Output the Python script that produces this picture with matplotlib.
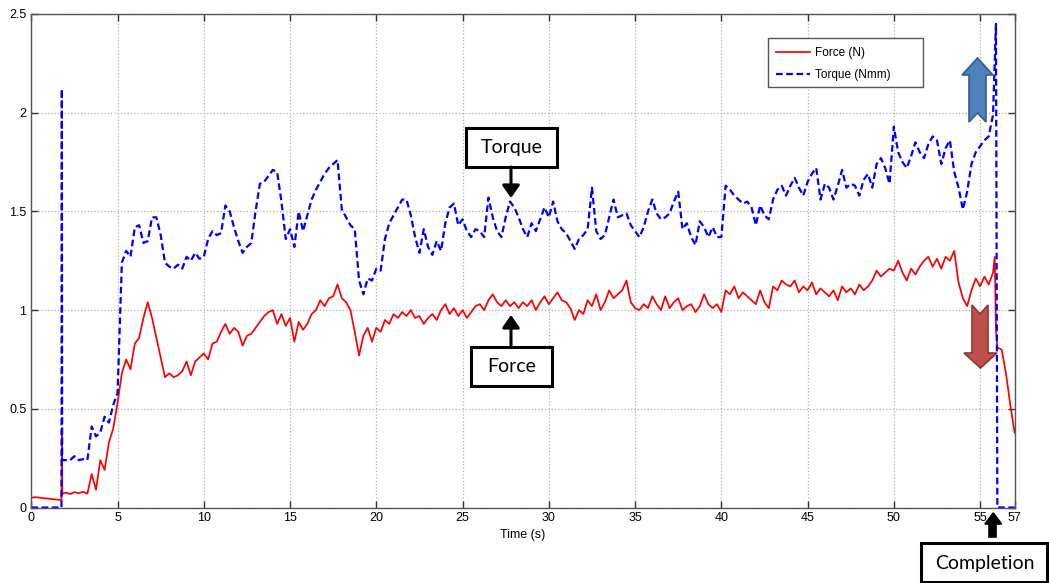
import numpy as np
import matplotlib
matplotlib.use("Agg")
import matplotlib.pyplot as plt
from matplotlib.patches import Polygon, Rectangle, FancyArrowPatch

# ---------------- data ----------------
# regular sampling grid (s)
time_grid = np.arange(0, 57.001, 0.25)

force_vals = [
    0.050, 0.052, 0.050, 0.047, 0.045, 0.042, 0.040, 0.038,
    0.075, 0.068, 0.078, 0.072, 0.080, 0.070, 0.17, 0.09,
    0.24, 0.19, 0.33, 0.40, 0.53, 0.68, 0.75, 0.70,
    0.83, 0.86, 0.96, 1.04, 0.96, 0.86, 0.76, 0.66,
    0.68, 0.66, 0.67, 0.69, 0.74, 0.67, 0.74, 0.76,
    0.78, 0.75, 0.83, 0.84, 0.89, 0.93, 0.88, 0.91,
    0.89, 0.82, 0.87, 0.88, 0.91, 0.94, 0.97, 0.99,
    1.00, 0.93, 0.98, 0.92, 0.96, 0.84, 0.94, 0.90,
    0.93, 0.98, 1.00, 1.05, 1.02, 1.06, 1.07, 1.13,
    1.06, 1.04, 1.00, 0.89, 0.77, 0.87, 0.91, 0.84,
    0.91, 0.89, 0.95, 0.93, 0.98, 0.96, 0.99, 0.97,
    1.00, 0.96, 0.97, 0.93, 0.96, 0.98, 0.95, 1.00,
    1.03, 0.98, 1.01, 0.97, 1.00, 0.96, 0.99, 1.02,
    1.03, 1.00, 1.05, 1.08, 1.04, 1.02, 1.05, 1.02,
    1.04, 1.01, 1.04, 1.02, 1.05, 1.00, 1.04, 1.07,
    1.03, 1.06, 1.09, 1.05, 1.04, 1.01, 0.95, 1.00,
    0.98, 1.05, 1.02, 1.08, 1.00, 1.04, 1.10, 1.06,
    1.08, 1.10, 1.15, 1.04, 1.01, 1.00, 1.03, 1.01,
    1.07, 1.03, 1.00, 1.07, 1.01, 1.04, 1.06, 1.00,
    1.02, 1.03, 0.99, 1.02, 1.08, 1.03, 1.01, 1.03,
    0.99, 1.10, 1.08, 1.12, 1.06, 1.09, 1.07, 1.05,
    1.03, 1.10, 1.04, 1.01, 1.12, 1.10, 1.15, 1.13,
    1.12, 1.15, 1.09, 1.12, 1.10, 1.14, 1.08, 1.11,
    1.09, 1.07, 1.10, 1.05, 1.12, 1.09, 1.11, 1.08,
    1.13, 1.10, 1.12, 1.15, 1.20, 1.17, 1.19, 1.21,
    1.20, 1.25, 1.19, 1.15, 1.21, 1.18, 1.22, 1.25,
    1.27, 1.22, 1.26, 1.21, 1.27, 1.25, 1.30, 1.14,
    1.06, 1.02, 1.10, 1.16, 1.12, 1.17, 1.13, 1.19,
    0.81, 0.80, 0.68, 0.52, 0.38,
]

torque_vals = [
    0.0, 0.0, 0.0, 0.0, 0.0, 0.0, 0.0, 0.0,
    0.24, 0.24, 0.26, 0.24, 0.245, 0.24, 0.41, 0.36,
    0.38, 0.46, 0.43, 0.52, 0.58, 1.24, 1.30, 1.27,
    1.42, 1.43, 1.34, 1.35, 1.47, 1.47, 1.38, 1.24,
    1.22, 1.21, 1.23, 1.21, 1.27, 1.25, 1.29, 1.26,
    1.27, 1.36, 1.40, 1.38, 1.39, 1.53, 1.50, 1.42,
    1.35, 1.29, 1.32, 1.34, 1.50, 1.64, 1.65, 1.68,
    1.71, 1.70, 1.55, 1.36, 1.41, 1.32, 1.50, 1.40,
    1.48, 1.56, 1.61, 1.65, 1.69, 1.72, 1.74, 1.76,
    1.51, 1.47, 1.43, 1.41, 1.15, 1.08, 1.16, 1.15,
    1.21, 1.20, 1.36, 1.44, 1.48, 1.52, 1.56, 1.56,
    1.48, 1.37, 1.29, 1.41, 1.32, 1.28, 1.35, 1.30,
    1.44, 1.52, 1.54, 1.43, 1.46, 1.40, 1.37, 1.41,
    1.40, 1.37, 1.57, 1.47, 1.40, 1.37, 1.47, 1.55,
    1.52, 1.47, 1.41, 1.37, 1.44, 1.40, 1.46, 1.52,
    1.47, 1.55, 1.45, 1.41, 1.39, 1.35, 1.31, 1.36,
    1.38, 1.41, 1.62, 1.40, 1.36, 1.38, 1.47, 1.56,
    1.47, 1.48, 1.49, 1.43, 1.40, 1.37, 1.42, 1.50,
    1.56, 1.49, 1.46, 1.47, 1.49, 1.55, 1.60, 1.41,
    1.44, 1.37, 1.33, 1.45, 1.42, 1.37, 1.42, 1.37,
    1.37, 1.63, 1.61, 1.58, 1.56, 1.54, 1.55, 1.52,
    1.43, 1.53, 1.48, 1.46, 1.56, 1.61, 1.63, 1.58,
    1.63, 1.67, 1.62, 1.58, 1.65, 1.69, 1.72, 1.56,
    1.64, 1.62, 1.56, 1.63, 1.71, 1.62, 1.64, 1.63,
    1.58, 1.66, 1.69, 1.62, 1.74, 1.77, 1.72, 1.64,
    1.93, 1.80, 1.75, 1.72, 1.78, 1.85, 1.80, 1.77,
    1.84, 1.88, 1.86, 1.74, 1.82, 1.86, 1.70, 1.62,
    1.51, 1.60, 1.74, 1.80, 1.83, 1.86, 1.88, 1.99,
    0.0, 0.0, 0.0, 0.0, 0.0,
]

# extra samples at the sharp events (spikes)
force_event_t = [1.78, 1.80, 55.85, 55.92]
force_event_v = [0.37, 0.07, 1.27, 0.90]
torque_event_t = [1.77, 1.79, 55.92]
torque_event_v = [2.12, 0.24, 2.45]

x_ticks = [0, 5, 10, 15, 20, 25, 30, 35, 40, 45, 50, 55, 57]
y_ticks = [0, 0.5, 1, 1.5, 2, 2.5]
y_tick_labels = ['0', '0.5', '1', '1.5', '2', '2.5']


def merged(t_grid, vals, t_ev, v_ev):
    t = np.concatenate([t_grid, t_ev])
    v = np.concatenate([vals, v_ev])
    order = np.argsort(t, kind="stable")
    return t[order], v[order]


force_t, force_v = merged(time_grid, force_vals, force_event_t, force_event_v)
torque_t, torque_v = merged(time_grid, torque_vals, torque_event_t, torque_event_v)

# ---------------- figure ----------------
W, H = 1049, 583
plt.rcParams['font.family'] = ['Liberation Sans', 'DejaVu Sans']
fig = plt.figure(figsize=(W / 100, H / 100), dpi=100)


def fp(x, y):
    return (x / W, 1 - y / H)


ax = fig.add_axes([31.3 / W, 1 - 507.5 / H, (1014.6 - 31.3) / W, (507.5 - 14) / H])
line_f, = ax.plot(force_t, force_v, color='#ff0000', lw=1.25, label='Force (N)')
line_t, = ax.plot(torque_t, torque_v, color='#0000ff', lw=1.6, linestyle=(0, (3, 1.6)),
                  label='Torque (Nmm)')

ax.set_xlim(0, 57)
ax.set_ylim(0, 2.5)
ax.set_xticks(x_ticks)
ax.set_xticklabels([str(v) for v in x_ticks])
ax.set_yticks(y_ticks)
ax.set_yticklabels(y_tick_labels)
ax.tick_params(direction='in', length=5, width=1, colors='#333333',
               labelsize=9, top=True, right=True, labelcolor='black')
ax.grid(True, linestyle=':', color='#b0b0b0', lw=0.9)
for s in ax.spines.values():
    s.set_color('#555555')
    s.set_linewidth(1.0)
ax.set_xlabel('Time (s)', fontsize=9, labelpad=3)

# legend: frame drawn separately to match the reference box size
fig.patches.append(Rectangle(fp(768, 87), 155 / W, 49 / H, transform=fig.transFigure,
                             facecolor='white', edgecolor='#555555', lw=1.0, zorder=4))
leg = fig.legend(handles=[line_f, line_t], loc='upper left', bbox_to_anchor=fp(767, 38),
                 bbox_transform=fig.transFigure, fontsize=8.5, frameon=False,
                 handlelength=2.9, borderpad=0.75, borderaxespad=0,
                 labelspacing=0.85, handletextpad=0.4)
leg.set_zorder(5)

# ---------------- annotations ----------------
ann_font = ['Lato', 'DejaVu Sans']


def box_label(x0, y0, x1, y1, text, tx=None, ty=None):
    fig.patches.append(Rectangle(fp(x0, y1), (x1 - x0) / W, (y1 - y0) / H,
                                 transform=fig.transFigure, facecolor='white',
                                 edgecolor='black', lw=2.2, zorder=5))
    cx, cy = fp((x0 + x1) / 2 if tx is None else tx, (y0 + y1) / 2 if ty is None else ty)
    fig.text(cx, cy, text, ha='center', va='center', fontsize=14,
             family=ann_font, zorder=6)


def thin_arrow(x, y_from, y_to):
    fig.add_artist(FancyArrowPatch(
        fp(x, y_from), fp(x, y_to), transform=fig.transFigure,
        arrowstyle='-|>,head_length=5,head_width=3.5', color='black',
        lw=2.2, mutation_scale=1.5, shrinkA=0, shrinkB=0, zorder=6))


box_label(466, 128, 557, 167, 'Torque')
thin_arrow(511, 167, 198)
box_label(471, 347, 552, 386, 'Force')
thin_arrow(511, 347, 315)
box_label(921, 543, 1047, 582, 'Completion', tx=985, ty=563)


def block(points, face, edge):
    fig.patches.append(Polygon([fp(x, y) for x, y in points], closed=True,
                               transform=fig.transFigure, facecolor=face,
                               edgecolor=edge, lw=1.2, zorder=6))


# blue up arrow
block([(977.5, 58), (993, 75), (986, 75), (986, 122), (977.5, 113), (969, 122),
       (969, 75), (962, 75)], '#4f81bd', '#385d8a')
# red down arrow
block([(972, 305), (980, 314), (988, 305), (988, 353), (997, 353), (980.5, 368),
       (964, 353), (972, 353)], '#c0504d', '#8c3836')
# black completion arrow
block([(993.3, 513), (1001.5, 524), (996, 524), (996, 537), (989, 537),
       (989, 524), (985, 524)], 'black', 'black')

fig.savefig('out.png', dpi=100)
